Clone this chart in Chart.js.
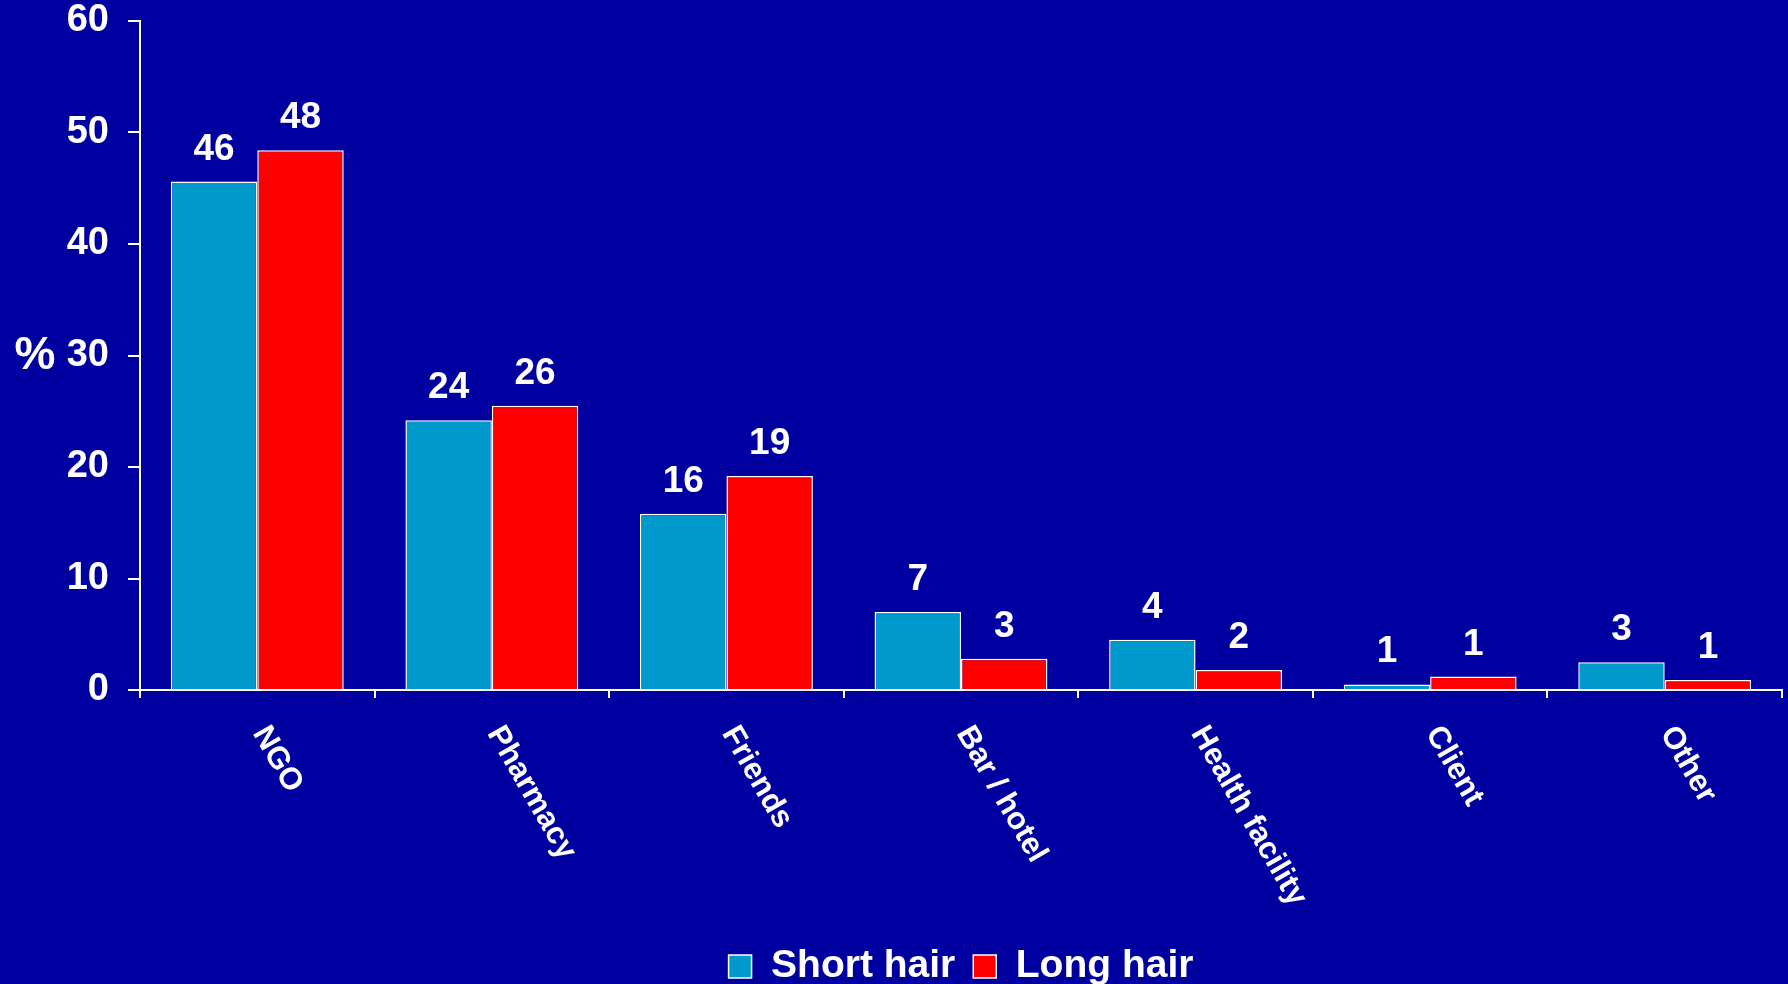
<!DOCTYPE html>
<html>
<head>
<meta charset="utf-8">
<script src="https://cdn.jsdelivr.net/npm/chart.js@4.4.1/dist/chart.umd.min.js"></script>
<style>
  html, body { margin: 0; padding: 0; background: #0000A0; overflow: hidden; }
  #wrap { width: 1788px; height: 984px; position: relative; }
</style>
</head>
<body>
<div id="wrap"><canvas id="c"></canvas></div>
<script>
const categories = ['NGO', 'Pharmacy', 'Friends', 'Bar / hotel', 'Health facility', 'Client', 'Other'];
const shortHair = [45.6, 24.2, 15.8, 7.0, 4.5, 0.5, 2.5];
const longHair = [48.4, 25.5, 19.2, 2.8, 1.8, 1.2, 0.9];
const shortLabels = ['46', '24', '16', '7', '4', '1', '3'];
const longLabels = ['48', '26', '19', '3', '2', '1', '1'];
const seriesNames = ['Short hair', 'Long hair'];
const yAxisTitle = '%';
const yMin = 0, yMax = 60, yStep = 10;

const FONT = '"Liberation Sans", Arial, sans-serif';
const BG = '#0000A0';

const bgPlugin = {
  id: 'bg',
  beforeDraw(chart) {
    const ctx = chart.ctx;
    ctx.save();
    ctx.fillStyle = BG;
    ctx.fillRect(0, 0, chart.width, chart.height);
    ctx.restore();
  }
};

const valueLabels = [shortLabels, longLabels];
const labelPlugin = {
  id: 'vlabels',
  afterDatasetsDraw(chart) {
    const ctx = chart.ctx;
    ctx.save();
    ctx.fillStyle = '#FFFFFF';
    ctx.font = 'bold 37px ' + FONT;
    ctx.textAlign = 'center';
    ctx.textBaseline = 'alphabetic';
    chart.data.datasets.forEach((ds, di) => {
      const meta = chart.getDatasetMeta(di);
      meta.data.forEach((el, i) => {
        ctx.fillText(valueLabels[di][i], el.x, el.y - 22);
      });
    });
    ctx.restore();
  },
  afterDraw(chart) {
    const ctx = chart.ctx;
    const xs = chart.scales.x;
    const ys = chart.scales.y;
    ctx.save();
    ctx.fillStyle = '#FFFFFF';
    // category labels, rotated clockwise
    ctx.font = 'bold 31px ' + FONT;
    ctx.textAlign = 'left';
    ctx.textBaseline = 'alphabetic';
    categories.forEach((c, i) => {
      const x = xs.getPixelForValue(i);
      ctx.save();
      ctx.translate(x - 5, xs.top + 43);
      ctx.rotate(60 * Math.PI / 180);
      ctx.fillText(c, 0, 0);
      ctx.restore();
    });
    // y axis title (horizontal)
    ctx.font = 'bold 46px ' + FONT;
    ctx.textAlign = 'center';
    ctx.textBaseline = 'middle';
    ctx.fillText(yAxisTitle, 35, ys.getPixelForValue((yMin + yMax) / 2) + 1);
    ctx.restore();
  }
};

new Chart(document.getElementById('c'), {
  type: 'bar',
  data: {
    labels: categories,
    datasets: [
      {
        label: seriesNames[0],
        data: shortHair,
        backgroundColor: '#0099CC',
        borderColor: '#FFFFFF',
        borderWidth: 1.5,
        categoryPercentage: 0.737,
        barPercentage: 1.0
      },
      {
        label: seriesNames[1],
        data: longHair,
        backgroundColor: '#FF0000',
        borderColor: '#FFFFFF',
        borderWidth: 1.5,
        categoryPercentage: 0.737,
        barPercentage: 1.0
      }
    ]
  },
  options: {
    responsive: true,
    maintainAspectRatio: false,
    animation: false,
    layout: { padding: { left: 0, right: 6, top: 21, bottom: -12 } },
    plugins: {
      tooltip: { enabled: false },
      legend: {
        display: true,
        position: 'bottom',
        fullSize: false,
        labels: {
          color: '#FFFFFF',
          font: { family: FONT, size: 39, weight: 'bold' },
          boxWidth: 23,
          boxHeight: 23,
          padding: 18
        }
      }
    },
    scales: {
      x: {
        grid: {
          display: true,
          drawOnChartArea: false,
          drawTicks: true,
          tickLength: 8,
          color: '#FFFFFF',
          lineWidth: 2,
          offset: true
        },
        border: { display: true, color: '#FFFFFF', width: 2 },
        ticks: { display: false },
        afterFit(scale) { scale.height = 239; }
      },
      y: {
        min: yMin,
        max: yMax,
        grid: {
          display: true,
          drawOnChartArea: false,
          drawTicks: true,
          tickLength: 12,
          color: '#FFFFFF',
          lineWidth: 2
        },
        border: { display: true, color: '#FFFFFF', width: 2 },
        ticks: {
          stepSize: yStep,
          color: '#FFFFFF',
          padding: 19,
          font: { family: FONT, size: 38, weight: 'bold' }
        },
        afterFit(scale) {
          scale.width = 140;
          scale.paddingTop = 0;
          scale.paddingBottom = 0;
        }
      }
    }
  },
  plugins: [bgPlugin, labelPlugin]
});
</script>
</body>
</html>
